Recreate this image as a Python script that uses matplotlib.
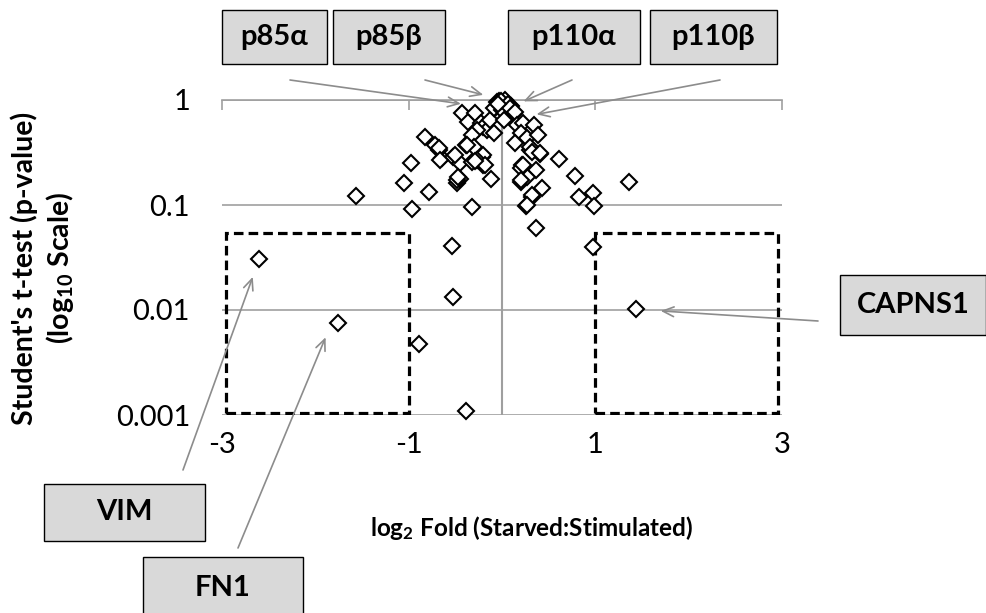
import matplotlib
matplotlib.use("Agg")
import matplotlib.pyplot as plt
from matplotlib.patches import Rectangle

plt.rcParams['font.family'] = ['Lato', 'DejaVu Sans']
plt.rcParams['mathtext.default'] = 'regular'

# ---------------- data ----------------
log2_fold = [
    -2.60, -1.76, -0.54, -0.52, -0.89, -0.39, 0.36, 0.98, 1.44,
    -1.56, -0.96, -1.05, -0.78, -0.97, -0.32, -0.12, -0.48, -0.45, -0.64,
    -0.52, -0.45, -0.32, -0.20, -0.21, -0.68,
    0.20, 0.21, 0.36, 0.27, 0.43, 0.32, 0.26, 0.61, 0.78, 0.82, 0.98, 0.99,
    1.36, 0.41, 0.30,
    -0.82, -0.72, -0.68, -0.66, -0.43, -0.36, -0.29, -0.23, -0.20, -0.16,
    -0.27, -0.13, -0.09, -0.32, -0.39, -0.50, -0.30, -0.20, -0.27, -0.18,
    -0.48, -0.47, -0.375, -0.29,
    -0.05, -0.03, -0.02, 0.00, 0.02, 0.05, 0.08, 0.11, -0.06, 0.04, -0.09,
    0.13, 0.00, 0.07, 0.10, 0.03, -0.01, 0.06, 0.09, -0.04,
    0.02, 0.14, 0.16, 0.23, 0.34, 0.20, 0.27, 0.39, 0.14, 0.30, 0.32, 0.41,
    0.20, 0.23, 0.20, 0.32, 0.27,
]
p_values = [
    0.0308, 0.0075, 0.041, 0.0134, 0.0047, 0.0011, 0.060, 0.040, 0.0103,
    0.122, 0.091, 0.161, 0.134, 0.249, 0.096, 0.176, 0.161, 0.176, 0.278,
    0.289, 0.249, 0.259, 0.240, 0.289, 0.334,
    0.167, 0.240, 0.216, 0.186, 0.144, 0.120, 0.098, 0.272, 0.189, 0.120,
    0.129, 0.098, 0.167, 0.306, 0.334,
    0.448, 0.373, 0.347, 0.268, 0.747, 0.621, 0.747, 0.600, 0.557, 0.518,
    0.518, 0.645, 0.482, 0.464, 0.373, 0.299, 0.360, 0.299, 0.268, 0.240,
    0.173, 0.186, 0.37, 0.26,
    0.95, 0.98, 0.90, 0.93, 0.88, 0.85, 0.82, 0.80, 0.86, 0.96, 0.84,
    0.76, 0.80, 0.90, 0.87, 1.00, 0.97, 0.92, 0.83, 0.91,
    0.645, 0.774, 0.578, 0.600, 0.578, 0.482, 0.432, 0.464, 0.387, 0.360,
    0.322, 0.311, 0.223, 0.240, 0.173, 0.125, 0.100,
]

x_ticks = [-3, -1, 1, 3]
x_tick_labels = ['-3', '-1', '1', '3']
y_ticks = [0.001, 0.01, 0.1, 1]
y_tick_labels = ['0.001', '0.01', '0.1', '1']

# highlighted regions (log2 fold ranges, p-value range)
region_x = [(-2.96, -1.0), (1.0, 2.96)]
region_p = (0.00105, 0.054)

# call-outs: label, arrow target (log2 fold, p), box (l, t, r, b px), arrow tail (px)
callout_labels = ['p85α', 'p85β', 'p110α', 'p110β', 'CAPNS1', 'VIM', 'FN1']
callout_targets = [(-0.44, 0.92), (-0.20, 1.12), (0.23, 0.97), (0.37, 0.73),
                   (1.70, 0.0098), (-2.67, 0.0207), (-1.89, 0.0055)]
callout_boxes = [(222, 10, 327, 64), (333, 10, 445, 64), (508, 10, 640, 64),
                 (650, 10, 777, 64), (840, 275, 986, 335), (44, 484, 205, 541),
                 (143, 557, 303, 620)]
callout_tails = [(290, 80), (425, 80), (572, 80), (720, 80), (818, 321),
                 (183, 470), (238, 548)]

# ---------------- figure ----------------
W, H = 987, 613
fig = plt.figure(figsize=(W / 100, H / 100), dpi=100)
ax = fig.add_axes([222 / W, 1 - 415 / H, 560 / W, 315 / H])

GRID = '#9f9f9f'

ax.set_yscale('log')
ax.set_xlim(-3, 3)
ax.set_ylim(0.001, 1)

for s in ['left', 'right', 'bottom']:
    ax.spines[s].set_visible(False)
ax.spines['top'].set_color(GRID)
ax.spines['top'].set_linewidth(1.2)

ax.set_xticks(x_ticks)
ax.set_xticklabels(x_tick_labels)
ax.tick_params(axis='x', top=True, bottom=False, labeltop=False, labelbottom=True,
               direction='in', length=7, width=1.2, color=GRID, labelsize=21, pad=12)
ax.set_yticks(y_ticks)
ax.set_yticklabels(y_tick_labels)
ax.yaxis.set_minor_locator(matplotlib.ticker.NullLocator())
ax.tick_params(axis='y', length=0, labelsize=21, pad=23)

ax.yaxis.grid(True, color=GRID, lw=1.2, zorder=0)
ax.set_axisbelow(True)
ax.axvline(0, color=GRID, lw=1.5, zorder=1)

for (x0, x1) in region_x:
    ax.add_patch(Rectangle((x0, region_p[0]), x1 - x0, region_p[1] - region_p[0],
                           fill=False, ec='black', lw=2.3, ls=(0, (3, 1.6)),
                           zorder=2))

ax.plot(log2_fold, p_values, ls='none', marker='D', ms=8.3, mfc='white',
        mec='black', mew=1.5, zorder=3, clip_on=False)

# axis titles
fig.text(532 / W, 1 - 528 / H, 'log$_2$ Fold (Starved:Stimulated)', ha='center',
         va='center', fontsize=17.5, fontweight='bold')
fig.text(43 / W, 1 - 268 / H, "Student's t-test (p-value)\n(log$_{10}$ Scale)",
         ha='center', va='center', rotation=90, fontsize=20.5, fontweight='bold',
         multialignment='center', linespacing=1.22)

# call-outs
for lab, tgt, box, tail in zip(callout_labels, callout_targets, callout_boxes, callout_tails):
    l, t, r, b = box
    fig.add_artist(Rectangle((l / W, 1 - b / H), (r - l) / W, (b - t) / H,
                             transform=fig.transFigure, fc='#d9d9d9', ec='black',
                             lw=1.0, clip_on=False))
    fig.text((l + r) / 2 / W, 1 - (t + b) / 2 / H, lab, ha='center', va='center',
             fontsize=21, fontweight='bold')
    ax.annotate('', xy=tgt, xycoords='data',
                xytext=(tail[0] / W, 1 - tail[1] / H), textcoords='figure fraction',
                arrowprops=dict(arrowstyle='->,head_length=0.8,head_width=0.35',
                                color='#8c8c8c', lw=1.2, shrinkA=0, shrinkB=0),
                annotation_clip=False, zorder=4)

fig.savefig('out.png', dpi=100)
